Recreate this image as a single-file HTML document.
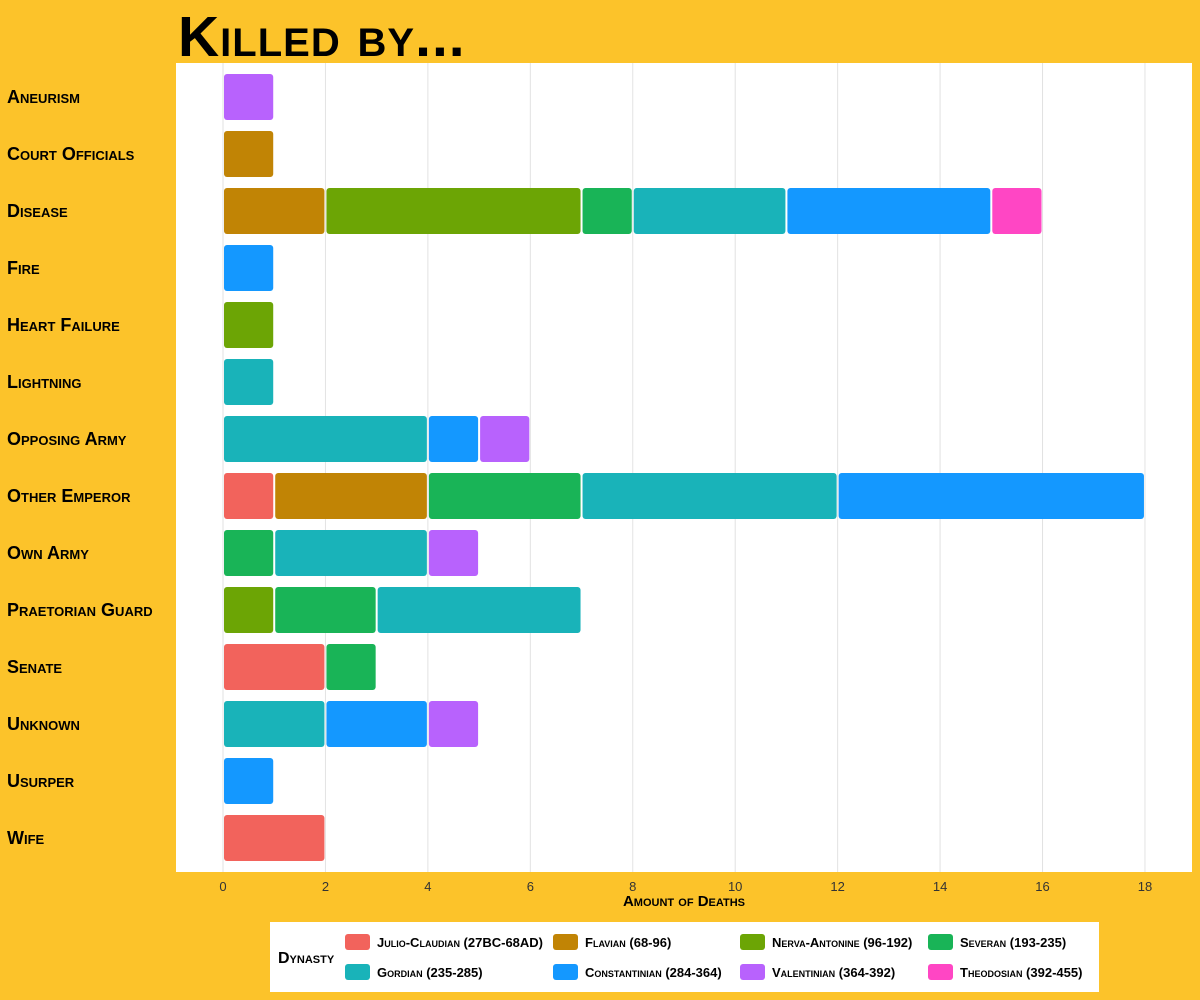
<!DOCTYPE html>
<html><head><meta charset="utf-8"><style>
body{margin:0;background:#FCC32A;}
svg{display:block;font-family:"Liberation Sans",sans-serif;font-variant:small-caps;}
</style></head><body>
<svg id="c" width="1200" height="1000" xmlns="http://www.w3.org/2000/svg">
<rect x="0" y="0" width="1200" height="1000" fill="#FCC32A"/>
<text x="178" y="56" font-size="57" font-weight="bold" fill="#000" letter-spacing="1">Killed by...</text>
<rect x="176" y="63" width="1016" height="809" fill="#fff"/>
<g id="grid"></g><g id="bars"></g><g id="ylab"></g><g id="xlab"></g>
<text x="684" y="906" font-size="15" font-weight="bold" text-anchor="middle">Amount of Deaths</text>
<rect x="270" y="922" width="829" height="70" fill="#fff"/>
<text x="278" y="963" font-size="16" font-weight="bold">Dynasty</text>
<g id="leg"></g>
</svg>
<script>
const categories=["Aneurism","Court Officials","Disease","Fire","Heart Failure","Lightning","Opposing Army","Other Emperor","Own Army","Praetorian Guard","Senate","Unknown","Usurper","Wife"];
const dynasties=["Julio-Claudian (27BC-68AD)","Flavian (68-96)","Nerva-Antonine (96-192)","Severan (193-235)","Gordian (235-285)","Constantinian (284-364)","Valentinian (364-392)","Theodosian (392-455)"];
const colors=["#F2635C","#C18405","#6CA505","#19B457","#19B3B9","#1498FF","#B862FD","#FF46C4"];
const julio    =[0,0,0,0,0,0,0,1,0,0,2,0,0,2];
const flavian  =[0,1,2,0,0,0,0,3,0,0,0,0,0,0];
const nerva    =[0,0,5,0,1,0,0,0,0,1,0,0,0,0];
const severan  =[0,0,1,0,0,0,0,3,1,2,1,0,0,0];
const gordian  =[0,0,3,0,0,1,4,5,3,4,0,2,0,0];
const constant =[0,0,4,1,0,0,1,6,0,0,0,2,1,0];
const valent   =[1,0,0,0,0,0,1,0,1,0,0,1,0,0];
const theod    =[0,0,1,0,0,0,0,0,0,0,0,0,0,0];
const xTicks=[0,2,4,6,8,10,12,14,16,18];
const series=[julio,flavian,nerva,severan,gordian,constant,valent,theod];
const NS="http://www.w3.org/2000/svg";
const x=v=>223+v*51.22;
const y=i=>97+i*57;
function mk(t,a,p){const e=document.createElementNS(NS,t);for(const k in a)e.setAttribute(k,a[k]);document.getElementById(p).appendChild(e);return e;}
xTicks.forEach(t=>{
  const l=mk('line',{x1:x(t),x2:x(t),y1:63,y2:872,stroke:'#e2e2e2','stroke-width':1},'grid');
  
  
  const tx=mk('text',{x:x(t),y:891,'font-size':13,'text-anchor':'middle',fill:'#333'},'xlab');
  tx.textContent=t;
  
  
});
categories.forEach((c,i)=>{
  const t=mk('text',{x:7,y:y(i)+6,'font-size':18,'font-weight':'bold',fill:'#000'},'ylab');
  t.textContent=c;
  
  
  let cum=0;
  series.forEach((s,d)=>{
    const v=s[i];if(!v)return;
    const r=mk('rect',{x:x(cum)+1,y:y(i)-23,width:x(cum+v)-x(cum)-2,height:46,rx:3,fill:colors[d]},'bars');
    
    
    cum+=v;
  });
});
const lx=[345,553,740,928],ly=[942,972];
dynasties.forEach((n,k)=>{
  const cx=lx[k%4],cy=ly[Math.floor(k/4)];
  const r=mk('rect',{x:cx,y:cy-8,width:25,height:16,rx:3,fill:colors[k]},'leg');
  
  
  const t=mk('text',{x:cx+32,y:cy+5,'font-size':13,'font-weight':'bold'},'leg');
  t.textContent=n;
  
  
});
</script>
</body></html>
